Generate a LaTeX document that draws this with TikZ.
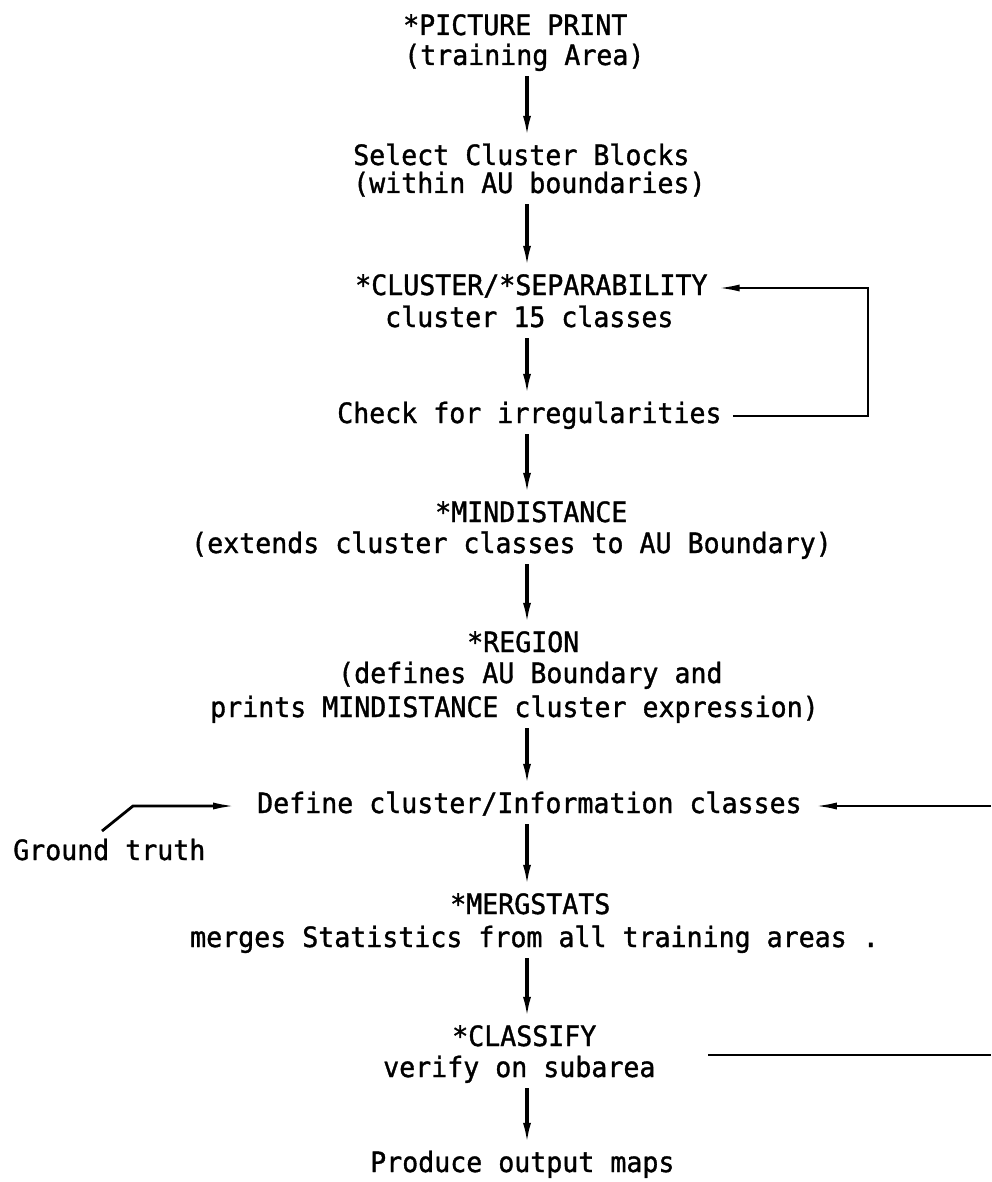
\documentclass[tikz,border=0pt]{standalone}
\usepackage{fontspec}
\newfontfamily\tw{DejaVu Sans Mono}[FakeStretch=0.95,FakeBold=1.2]
\usetikzlibrary{arrows.meta}
\begin{document}
\begin{tikzpicture}[x=1pt,y=-1pt,
  txt/.style={anchor=base west, inner sep=0pt, text height=21pt, text depth=7pt,
    font=\tw\fontsize{28}{33}\selectfont},
  varr/.style={line width=3.2pt, shorten <=4pt, shorten >=6pt,
    -{Latex[length=22pt,width=8pt]}},
  harr/.style={line width=2.8pt, -{Latex[length=24pt,width=7pt]}},
  hline/.style={line width=2.8pt}]
\fill[white] (0,0) rectangle (991,1182);
\useasboundingbox (0,0) rectangle (991,1182);

% text lines
\node[txt] (pp1) at (403,35)  {*PICTURE PRINT};
\node[txt] (pp2) at (404,65)  {(training Area)};
\node[txt] (sc1) at (353,165) {Select Cluster Blocks};
\node[txt] (sc2) at (353,193) {(within AU boundaries)};
\node[txt] (cl1) at (355,295) {*CLUSTER/*SEPARABILITY};
\node[txt] (cl2) at (385,327) {cluster 15 classes};
\node[txt] (chk) at (337,423) {Check for irregularities};
\node[txt] (md1) at (435,522) {*MINDISTANCE};
\node[txt] (md2) at (191,553) {(extends cluster classes to AU Boundary)};
\node[txt] (rg1) at (467,652) {*REGION};
\node[txt] (rg2) at (338,683) {(defines AU Boundary and};
\node[txt] (rg3) at (210,717) {prints MINDISTANCE cluster expression)};
\node[txt] (def) at (257,813) {Define cluster/Information classes};
\node[txt] (gt)  at (13,860)  {Ground truth};
\node[txt] (mg1) at (450,914) {*MERGSTATS};
\node[txt] (mg2) at (190,947) {merges Statistics from all training areas .};
\node[txt] (cf1) at (452,1046) {*CLASSIFY};
\node[txt] (cf2) at (383,1077) {verify on subarea};
\node[txt] (out) at (370,1172) {Produce output maps};

% helper coordinates
\coordinate (ax) at (527,0);
\coordinate (rx) at (868,0);
\coordinate (edge) at (991,0);
\coordinate (gs) at (102,831);
\coordinate (gk) at (133,0);
\coordinate (vl) at (708,1055);

% main flow
\draw[varr] (pp2.south -| ax) -- (sc1.north -| ax);
\draw[varr] (sc2.south -| ax) -- (cl1.north -| ax);
\draw[varr] (cl2.south -| ax) -- (chk.north -| ax);
\draw[varr] (chk.south -| ax) -- (md1.north -| ax);
\draw[varr] (md2.south -| ax) -- (rg1.north -| ax);
\draw[varr] (rg3.south -| ax) -- (def.north -| ax);
\draw[varr] (def.south -| ax) -- (mg1.north -| ax);
\draw[varr] (mg2.south -| ax) -- (cf1.north -| ax);
\draw[varr] (cf2.south -| ax) -- (out.north -| ax);

% feedback loop
\draw[harr, shorten <=11pt, shorten >=8pt]
  (chk.east) -- (chk.east -| rx) |- (cl1.east);

% ground truth input
\draw[harr, shorten >=20pt] (gs) -- (gk |- def.west) -- (def.west);

% lines from the right
\draw[harr, shorten >=11pt] (def.east -| edge) -- (def.east);
\draw[hline] (vl) -- (vl -| edge);
\end{tikzpicture}
\end{document}
